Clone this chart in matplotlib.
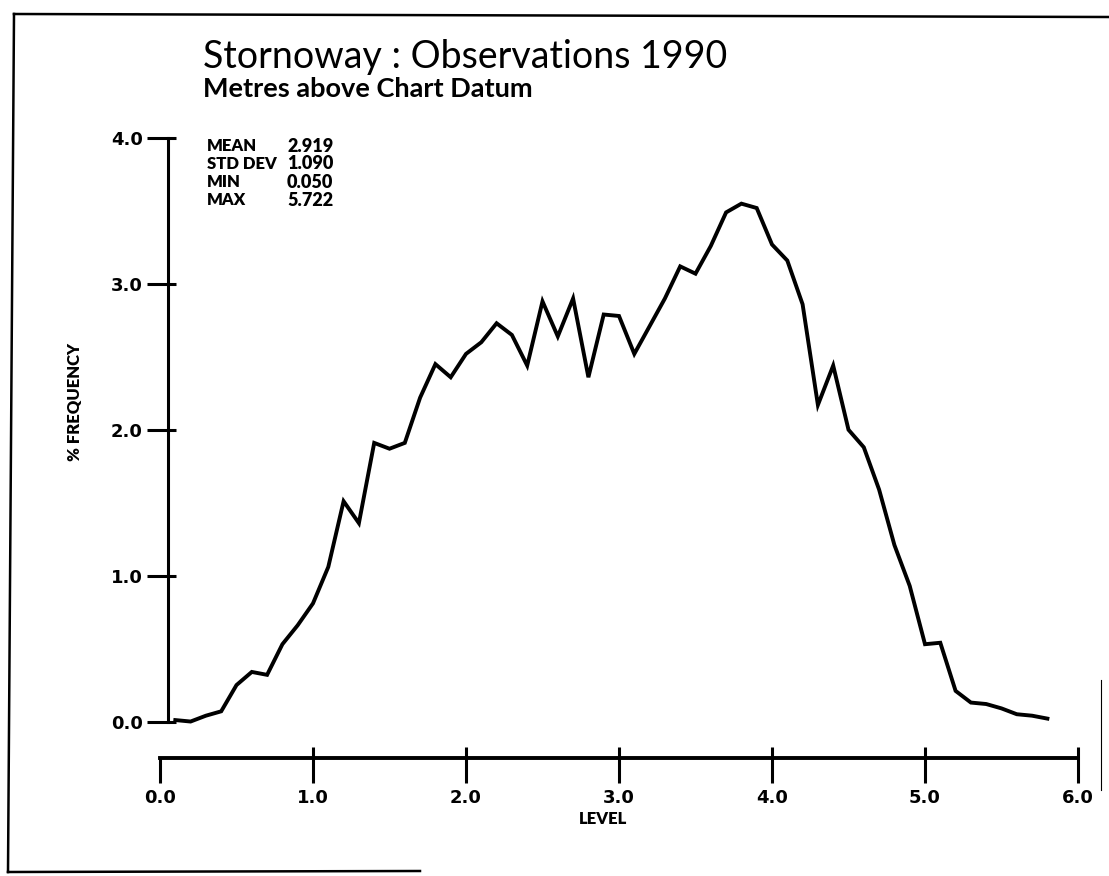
import matplotlib
matplotlib.use("Agg")
import matplotlib.pyplot as plt
from matplotlib.lines import Line2D

# Percentage frequency of observed water level, in 0.1 m bins
levels = [0.1, 0.2, 0.3, 0.4, 0.5, 0.6, 0.7, 0.8, 0.9, 1.0,
          1.1, 1.2, 1.3, 1.4, 1.5, 1.6, 1.7, 1.8, 1.9, 2.0,
          2.1, 2.2, 2.3, 2.4, 2.5, 2.6, 2.7, 2.8, 2.9, 3.0,
          3.1, 3.2, 3.3, 3.4, 3.5, 3.6, 3.7, 3.8, 3.9, 4.0,
          4.1, 4.2, 4.3, 4.4, 4.5, 4.6, 4.7, 4.8, 4.9, 5.0,
          5.1, 5.2, 5.3, 5.4, 5.5, 5.6, 5.7, 5.8]
frequency = [0.01, 0.00, 0.04, 0.07, 0.25, 0.34, 0.32, 0.53, 0.66, 0.81,
             1.06, 1.51, 1.36, 1.91, 1.87, 1.91, 2.22, 2.45, 2.36, 2.52,
             2.60, 2.73, 2.65, 2.44, 2.88, 2.64, 2.90, 2.36, 2.79, 2.78,
             2.52, 2.71, 2.90, 3.12, 3.07, 3.26, 3.49, 3.55, 3.52, 3.27,
             3.16, 2.86, 2.17, 2.44, 2.00, 1.88, 1.59, 1.21, 0.93, 0.53,
             0.54, 0.21, 0.13, 0.12, 0.09, 0.05, 0.04, 0.02]

x_ticks = [0, 1, 2, 3, 4, 5, 6]
x_tick_labels = ["0.0", "1.0", "2.0", "3.0", "4.0", "5.0", "6.0"]
y_ticks = [0, 1, 2, 3, 4]
y_tick_labels = ["0.0", "1.0", "2.0", "3.0", "4.0"]

stat_names = ["MEAN", "STD DEV", "MIN", "MAX"]
stat_values = ["2.919", "1.090", "0.050", "5.722"]

title = "Stornoway : Observations 1990"
subtitle = "Metres above Chart Datum"

W, H = 1109, 876
fig = plt.figure(figsize=(W / 100, H / 100), dpi=100)
fig.patch.set_facecolor("white")


def fx(px):
    return px / W


def fy(py):
    return 1 - py / H


ax = fig.add_axes([fx(160), fy(758), fx(1078) - fx(160), fy(138) - fy(758)])
ax.set_xlim(0, 6)
ax.set_ylim(-0.25, 4.0)
ax.set_facecolor("none")

for side in ("top", "right"):
    ax.spines[side].set_visible(False)
ax.spines["left"].set_position(("data", 0.05))
ax.spines["left"].set_bounds(0, 4)
ax.spines["left"].set_linewidth(2.2)
ax.spines["bottom"].set_bounds(0, 6)
ax.spines["bottom"].set_linewidth(2.8)

tick_font = dict(family="DejaVu Sans", weight="bold", size=13)

ax.set_yticks(y_ticks, y_tick_labels, **tick_font)
ax.set_yticks(y_ticks, minor=True)
ax.yaxis.remove_overlapping_locs = False
ax.tick_params(axis="y", which="major", direction="out", length=15,
               width=2.2, pad=3)
ax.tick_params(axis="y", which="minor", direction="in", length=6, width=2.2)

ax.set_xticks(x_ticks, x_tick_labels, **tick_font)
ax.set_xticks(x_ticks[1:], minor=True)
ax.xaxis.remove_overlapping_locs = False
ax.tick_params(axis="x", which="major", direction="out", length=18,
               width=2.2, pad=4)
ax.tick_params(axis="x", which="minor", direction="in", length=8, width=2.2)

ax.plot(levels, frequency, color="black", lw=2.8, clip_on=False,
        solid_joinstyle="miter")

label_font = dict(family="Lato", weight="heavy", size=12)
ax.set_xlabel("LEVEL", **label_font)
ax.xaxis.set_label_coords((603 - 160) / 918, -(811 - 758) / 620)
ax.set_ylabel("% FREQUENCY", **label_font, va="center", ha="center")
ax.yaxis.set_label_coords((75 - 160) / 918, (758 - 402) / 620)

# Headings
fig.text(fx(203), fy(68), title, family="Lato", size=27, va="baseline",
         ha="left")
fig.text(fx(203), fy(97), subtitle, family="Lato", weight="bold", size=19.5,
         va="baseline", ha="left")

# Summary statistics block
row_y = [146, 164, 182, 200]
for name, value, py in zip(stat_names, stat_values, row_y):
    fig.text(fx(207), fy(py), name, family="Lato", weight="heavy", size=12,
             va="center", ha="left")
    fig.text(fx(287), fy(py), value, family="Lato", weight="heavy", size=13,
             va="center", ha="left")

# Page border
border = dict(transform=fig.transFigure, color="black", lw=1.8)
fig.add_artist(Line2D([fx(14), fx(1109)], [fy(14), fy(17)], **border))
fig.add_artist(Line2D([fx(14), fx(8)], [fy(14), fy(872)], **border))
fig.add_artist(Line2D([fx(8), fx(420)], [fy(872), fy(871)], **border))
fig.add_artist(Line2D([fx(1101), fx(1101)], [fy(680), fy(790)],
                      transform=fig.transFigure, color="black", lw=0.8))

fig.savefig("out.png", dpi=100, facecolor="white")
